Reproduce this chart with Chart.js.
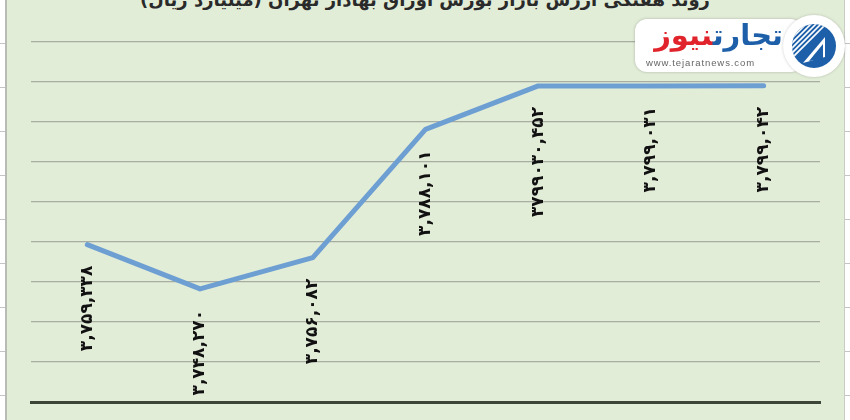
<!DOCTYPE html>
<html lang="fa">
<head>
<meta charset="utf-8">
<script src="https://cdn.jsdelivr.net/npm/chart.js@4.4.1/dist/chart.umd.min.js"></script>
<style>
    html, body { margin: 0; padding: 0; background: #fff; }
    .frame {
        position: relative; width: 850px; height: 420px; overflow: hidden;
        font-family: "DejaVu Sans", sans-serif;
    }
    .panel {
        position: absolute; left: 5px; top: 0; width: 837px; height: 420px;
        background: #e2edd8;
        border-left: 2px solid #b9bbb6;
        border-right: 1px solid #c9cbc6;
    }
    .ticksL, .ticksR {
        position: absolute; top: 0; width: 5px; height: 420px;
        background: repeating-linear-gradient(to bottom, transparent 0 43px, #c4c4c4 43px 44px);
    }
    .ticksL { left: 0; }
    .ticksR { right: 0; }
    .title {
        position: absolute; left: 0; right: 0; top: -11px; text-align: center;
        direction: rtl; font-weight: bold; font-size: 18px; color: #2a2a2a;
    }
    #chart { position: absolute; left: 0; top: 0; }
    .logo {
        position: absolute; left: 635px; top: 19px; width: 168px; height: 53px;
        background: #fff; border-radius: 12px; box-shadow: 0 0 3px rgba(0,0,0,0.25);
    }
    .logo .name {
        position: absolute; right: 20px; top: -1px; direction: rtl; font-weight: bold;
        font-size: 29px; line-height: 34px; white-space: nowrap; letter-spacing: -0.5px;
    }
    .logo .name .a { color: #1d5fa9; }
    .logo .name .b { color: #e1242b; }
    .logo .url {
        position: absolute; left: 11px; top: 38px; font-size: 9.5px; color: #666;
        letter-spacing: 0.9px; font-family: "Liberation Sans", sans-serif;
    }
    .badge {
        position: absolute; left: 783px; top: 15px; width: 62px; height: 62px;
        background: #fff; border-radius: 50%; box-shadow: 0 0 3px rgba(0,0,0,0.2);
    }
    .badge svg { position: absolute; left: 8px; top: 8px; }
</style>
</head>
<body>
<div class="frame">
    <div class="ticksL"></div>
    <div class="ticksR"></div>
    <div class="panel"></div>
    <div class="title">روند هفتگی ارزش بازار بورس اوراق بهادار تهران (میلیارد ریال)</div>
    <canvas id="chart" width="850" height="420"></canvas>
    <div class="logo">
        <div class="name"><span class="a">تجارت</span><span class="b">نیوز</span></div>
        <div class="url">www.tejaratnews.com</div>
    </div>
    <div class="badge">
        <svg width="46" height="46" viewBox="0 0 46 46">
            <defs>
                <clipPath id="c"><circle cx="23" cy="23" r="22"/></clipPath>
            </defs>
            <circle cx="23" cy="23" r="22" fill="#1d5fa9"/>
            <g clip-path="url(#c)" stroke="#fff" stroke-width="1.6">
                <line x1="-4" y1="20" x2="20" y2="-4"/>
                <line x1="-4" y1="25" x2="25" y2="-4"/>
                <line x1="-4" y1="30" x2="30" y2="-4"/>
                <line x1="-4" y1="35" x2="35" y2="-4"/>
                <line x1="-4" y1="40" x2="40" y2="-4"/>
            </g>
            <polygon points="12,40 34,14 34,34" fill="#fff"/>
            <polygon points="18,38 32,21 32,36" fill="#1d5fa9"/>
        </svg>
    </div>
</div>
<script>
const categories = ['1', '2', '3', '4', '5', '6', '7'];
const marketValues = [3759338, 3748270, 3756082, 3788151, 3799030, 3799031, 3799042];
const valueLabels = ['۳,۷۵۹,۳۳۸', '۳,۷۴۸,۲۷۰', '۳,۷۵۶,۰۸۲', '۳,۷۸۸,۱۰۱', '۳۷۹۹۰۳۰,۴۵۲', '۳,۷۹۹,۰۳۱', '۳,۷۹۹,۰۴۲'];
const yMin = 3720000;
const yMax = 3810000;
const yStep = 10000;

// vertical value labels under each point
const pointLabels = {
    id: 'pointLabels',
    afterDatasetsDraw(chart) {
        const ctx = chart.ctx;
        const meta = chart.getDatasetMeta(0);
        ctx.save();
        ctx.fillStyle = '#111';
        ctx.font = 'bold 17px "DejaVu Sans"';
        ctx.textAlign = 'right';
        ctx.textBaseline = 'middle';
        ctx.direction = 'ltr';
        meta.data.forEach((pt, i) => {
            ctx.save();
            ctx.translate(pt.x, pt.y + 21);
            ctx.rotate(-Math.PI / 2);
            ctx.fillText(valueLabels[i], 0, 0);
            ctx.restore();
        });
        ctx.restore();
    }
};

const ctx = document.getElementById('chart').getContext('2d');
const chart = new Chart(ctx, {
    type: 'line',
    data: {
        labels: categories,
        datasets: [{
            data: marketValues,
            borderColor: '#6e9fd2',
            borderWidth: 5,
            pointRadius: 0,
            tension: 0,
            borderCapStyle: 'round',
            borderJoinStyle: 'round'
        }]
    },
    options: {
        responsive: false,
        animation: false,
        layout: { padding: { left: 31, right: 30, top: 42, bottom: 10 } },
        plugins: { legend: { display: false }, tooltip: { enabled: false } },
        scales: {
            x: {
                offset: true,
                ticks: { display: false },
                grid: { display: false },
                border: { color: '#3d4438', width: 3 }
            },
            y: {
                min: yMin,
                max: yMax,
                ticks: { display: false, stepSize: yStep },
                grid: { color: '#a8ada2', lineWidth: 1.3, drawTicks: false },
                border: { display: false }
            }
        }
    },
    plugins: [pointLabels]
});
</script>
</body>
</html>
